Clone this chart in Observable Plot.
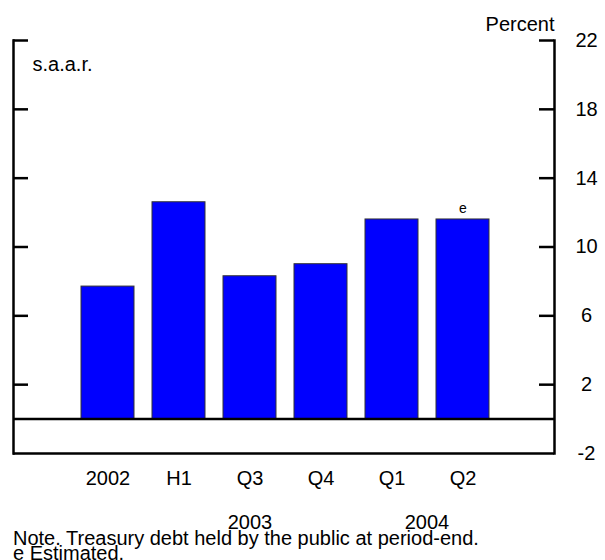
<!DOCTYPE html>
<html>
<head>
<meta charset="utf-8">
<script src="https://cdn.jsdelivr.net/npm/d3@7"></script>
<script src="https://cdn.jsdelivr.net/npm/@observablehq/plot@0.6"></script>
<style>
  html, body { margin: 0; padding: 0; background: #fff; }
  #wrap { position: relative; width: 605px; height: 560px; overflow: hidden; font-family: Arial, "Liberation Sans", sans-serif; }
  #wrap svg { position: absolute; left: 0; top: 0; }
  .note { position: absolute; left: 13px; font-size: 20px; line-height: 15px; height: 15px; color: #000; white-space: nowrap; }
</style>
</head>
<body>
<div id="wrap"></div>
<script>
// Data
const categories = ["2002", "H1", "Q3", "Q4", "Q1", "Q2"];
const growth = [7.7, 12.6, 8.3, 9.0, 11.6, 11.6];
const flags = ["", "", "", "", "", "e"];
const yTickLabels = [22, 18, 14, 10, 6, 2, -2];
const innerTicks = [22, 18, 14, 10, 6, 2];
const yearLabels = ["2003", "2004"];
const yearAnchors = ["Q3", "Q1"];
const unitsLabel = "s.a.a.r.";
const axisTitle = "Percent";
const notes = ["Note. Treasury debt held by the public at period-end.", "e Estimated."];

const W = 605, H = 548, mL = 13, mR = 51, mT = 40, mB = 95;
const plotW = W - mL - mR;
const tickLen = 15;
const fs = 20;

const chart = Plot.plot({
  width: W,
  height: H,
  marginTop: mT,
  marginLeft: mL,
  marginRight: mR,
  marginBottom: mB,
  style: { fontFamily: "Arial, 'Liberation Sans', sans-serif", fontSize: fs + "px", color: "#000", background: "transparent" },
  x: { domain: categories, paddingInner: 0.25, paddingOuter: 0.913, align: 0.516, axis: null },
  y: { domain: [-2, 22], axis: null },
  marks: [
    Plot.barY(growth, { x: categories, y: (d) => d, fill: "#0000ff", stroke: "#333", strokeWidth: 1 }),
    Plot.ruleY([-2, 0], { stroke: "#000", strokeWidth: 2.5 }),
    Plot.frame({ anchor: "left", stroke: "#000", strokeWidth: 2.5 }),
    Plot.frame({ anchor: "right", stroke: "#000", strokeWidth: 2.5 }),
    Plot.ruleY(innerTicks, { y: (d) => d, insetRight: plotW - tickLen, stroke: "#000", strokeWidth: 2.5 }),
    Plot.ruleY(innerTicks, { y: (d) => d, insetLeft: plotW - tickLen, stroke: "#000", strokeWidth: 2.5 }),
    Plot.text(yTickLabels, { y: (d) => d, text: (d) => String(d), frameAnchor: "right", dx: 32, textAnchor: "middle", fontSize: fs }),
    Plot.text(categories, { x: (d) => d, text: (d) => d, frameAnchor: "bottom", dy: 31, fontSize: fs }),
    Plot.text([yearLabels[0]], { x: () => yearAnchors[0], text: (d) => d, frameAnchor: "bottom", dy: 75, fontSize: fs }),
    Plot.text([yearLabels[1]], { x: () => yearAnchors[1], text: (d) => d, frameAnchor: "bottom", dy: 75, dx: 35, fontSize: fs }),
    Plot.text(flags, { x: categories, y: growth, text: (d) => d, dy: -11, fontSize: 14 }),
    Plot.text([unitsLabel], { frameAnchor: "top-left", text: (d) => d, dx: 19, dy: 16, textAnchor: "start", fontSize: fs }),
    Plot.text([axisTitle], { frameAnchor: "top-right", text: (d) => d, dy: -24, textAnchor: "end", fontSize: fs })
  ]
});

const wrap = document.getElementById("wrap");
wrap.appendChild(chart);
notes.forEach((t, i) => {
  const div = document.createElement("div");
  div.className = "note";
  div.style.top = (531 + i * 15) + "px";
  div.textContent = t;
  wrap.appendChild(div);
});
</script>
</body>
</html>
